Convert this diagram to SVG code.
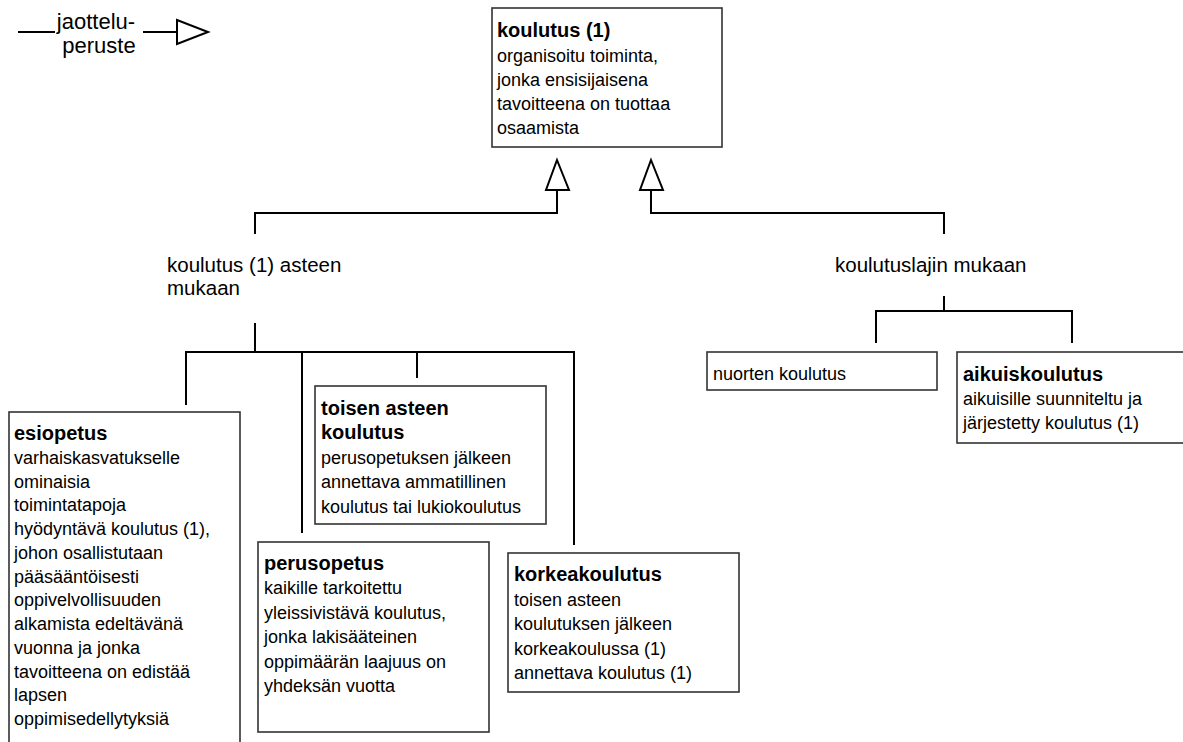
<svg xmlns="http://www.w3.org/2000/svg" width="1183" height="742" viewBox="0 0 1183 742">
<style>
  text { font-family: "Liberation Sans", Arial, sans-serif; fill: #000; }
  .t { font-size: 20px; font-weight: bold; }
  .b { font-size: 18px; }
  .lbl { font-size: 20.5px; }
  .lg { font-size: 22px; }
  .box { fill: #fff; stroke: #333; stroke-width: 1.6; }
  .ln { fill: none; stroke: #000; stroke-width: 2; }
  .tri { fill: #fff; stroke: #000; stroke-width: 2; stroke-linejoin: miter; }
</style>
<rect width="1183" height="742" fill="#fff"/>

<g id="legend">
  <line class="ln" x1="18" y1="32" x2="55" y2="32"/>
  <text class="lg" x="96" y="29" text-anchor="middle">jaottelu-</text>
  <text class="lg" x="99" y="53" text-anchor="middle">peruste</text>
  <line class="ln" x1="143" y1="32" x2="177" y2="32"/>
  <polygon class="tri" points="177,20 208,32 177,44"/>
</g>

<g id="connectors">
  <polyline class="ln" points="557,190 557,213 255,213 255,234"/>
  <polyline class="ln" points="651,190 651,213 944,213 944,234"/>
  <polygon class="tri" points="557,160 569,190 546,190"/>
  <polygon class="tri" points="651,160 663,190 640,190"/>
  <line class="ln" x1="255" y1="323" x2="255" y2="352"/>
  <polyline class="ln" points="186,405 186,352 574,352 574,545"/>
  <line class="ln" x1="302" y1="352" x2="302" y2="533"/>
  <line class="ln" x1="417" y1="352" x2="417" y2="378"/>
  <line class="ln" x1="944" y1="296" x2="944" y2="311"/>
  <polyline class="ln" points="876,343 876,311 1072,311 1072,343"/>
</g>

<g id="koulutus">
  <rect class="box" x="492" y="8" width="230" height="139"/>
  <text class="t" x="497" y="37">koulutus (1)</text>
  <text class="b" x="497" y="62">organisoitu toiminta,</text>
  <text class="b" x="497" y="86">jonka ensisijaisena</text>
  <text class="b" x="497" y="110">tavoitteena on tuottaa</text>
  <text class="b" x="497" y="134">osaamista</text>
</g>

<g id="label-asteen">
  <text class="lbl" x="167" y="272">koulutus (1) asteen</text>
  <text class="lbl" x="167" y="295">mukaan</text>
</g>

<g id="label-laji">
  <text class="lbl" x="835" y="272">koulutuslajin mukaan</text>
</g>

<g id="esiopetus">
  <rect class="box" x="9" y="412" width="231" height="340"/>
  <text class="t" x="14" y="440">esiopetus</text>
  <text class="b" x="14" y="464">varhaiskasvatukselle</text>
  <text class="b" x="14" y="488">ominaisia</text>
  <text class="b" x="14" y="511">toimintatapoja</text>
  <text class="b" x="14" y="535">hyödyntävä koulutus (1),</text>
  <text class="b" x="14" y="559">johon osallistutaan</text>
  <text class="b" x="14" y="583">pääsääntöisesti</text>
  <text class="b" x="14" y="606">oppivelvollisuuden</text>
  <text class="b" x="14" y="630">alkamista edeltävänä</text>
  <text class="b" x="14" y="654">vuonna ja jonka</text>
  <text class="b" x="14" y="678">tavoitteena on edistää</text>
  <text class="b" x="14" y="701">lapsen</text>
  <text class="b" x="14" y="725">oppimisedellytyksiä</text>
</g>

<g id="toisen-asteen">
  <rect class="box" x="315" y="386" width="231" height="138"/>
  <text class="t" x="321" y="415">toisen asteen</text>
  <text class="t" x="321" y="439">koulutus</text>
  <text class="b" x="321" y="464">perusopetuksen jälkeen</text>
  <text class="b" x="321" y="488">annettava ammatillinen</text>
  <text class="b" x="321" y="513">koulutus tai lukiokoulutus</text>
</g>

<g id="perusopetus">
  <rect class="box" x="258" y="542" width="231" height="190"/>
  <text class="t" x="264" y="570">perusopetus</text>
  <text class="b" x="264" y="594">kaikille tarkoitettu</text>
  <text class="b" x="264" y="619">yleissivistävä koulutus,</text>
  <text class="b" x="264" y="643">jonka lakisääteinen</text>
  <text class="b" x="264" y="668">oppimäärän laajuus on</text>
  <text class="b" x="264" y="692">yhdeksän vuotta</text>
</g>

<g id="korkeakoulutus">
  <rect class="box" x="508" y="553" width="231" height="139"/>
  <text class="t" x="514" y="581">korkeakoulutus</text>
  <text class="b" x="514" y="606">toisen asteen</text>
  <text class="b" x="514" y="630">koulutuksen jälkeen</text>
  <text class="b" x="514" y="655">korkeakoulussa (1)</text>
  <text class="b" x="514" y="679">annettava koulutus (1)</text>
</g>

<g id="nuorten">
  <rect class="box" x="707" y="352" width="230" height="38"/>
  <text class="b" x="713" y="380">nuorten koulutus</text>
</g>

<g id="aikuiskoulutus">
  <rect class="box" x="957" y="352" width="230" height="91"/>
  <text class="t" x="963" y="381">aikuiskoulutus</text>
  <text class="b" x="963" y="405">aikuisille suunniteltu ja</text>
  <text class="b" x="963" y="429">järjestetty koulutus (1)</text>
</g>
</svg>
